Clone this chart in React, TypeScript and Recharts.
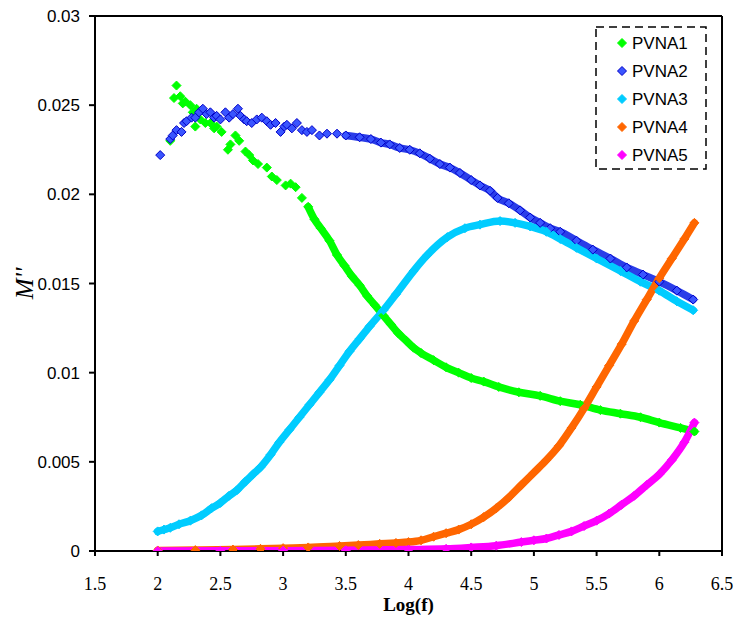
import React from 'react';
import { ComposedChart, Scatter, Line, XAxis, YAxis, ReferenceLine, Legend, Label } from 'recharts';

// axis ticks
const X_TICKS = [1.5, 2, 2.5, 3, 3.5, 4, 4.5, 5, 5.5, 6, 6.5];
const Y_TICKS = [0, 0.005, 0.01, 0.015, 0.02, 0.025, 0.03];

// [log(f), M'']
const PVNA1 = [
  [2.10, 0.0230], [2.13, 0.0254], [2.15, 0.0261], [2.18, 0.0255], [2.20, 0.0251], [2.22, 0.0252],
  [2.26, 0.0250], [2.28, 0.0246], [2.31, 0.0248], [2.30, 0.0238], [2.34, 0.0242], [2.38, 0.0240],
  [2.42, 0.0240], [2.45, 0.0237], [2.47, 0.0238], [2.51, 0.0235], [2.56, 0.0225], [2.58, 0.0228],
  [2.62, 0.0233], [2.65, 0.0230], [2.70, 0.0224], [2.73, 0.0222], [2.76, 0.0219], [2.80, 0.0217],
  [2.87, 0.0215], [2.91, 0.0210], [2.95, 0.0208], [3.02, 0.0205], [3.06, 0.0206], [3.10, 0.0204],
  [3.15, 0.0198], [3.20, 0.0193], [3.25, 0.0186], [3.30, 0.0181], [3.37, 0.0174], [3.43, 0.0166],
  [3.49, 0.0160], [3.55, 0.0154], [3.61, 0.0149], [3.67, 0.0143], [3.73, 0.0138], [3.80, 0.0132],
  [3.86, 0.0127], [3.92, 0.0122], [3.98, 0.0118], [4.04, 0.0114], [4.10, 0.0111], [4.20, 0.0107],
  [4.30, 0.0103], [4.40, 0.0100], [4.50, 0.0097], [4.60, 0.0095], [4.72, 0.0092], [4.88, 0.0089],
  [5.05, 0.0087], [5.21, 0.0084], [5.37, 0.0082], [5.53, 0.0079], [5.69, 0.0077], [5.85, 0.0075],
  [6.00, 0.0072], [6.17, 0.0069], [6.28, 0.0067],
];

const PVNA2 = [
  [2.02, 0.0222], [2.10, 0.0231], [2.12, 0.0233], [2.15, 0.0236], [2.19, 0.0235], [2.21, 0.0240],
  [2.23, 0.0241], [2.27, 0.0243], [2.30, 0.0243], [2.33, 0.0246], [2.36, 0.0248], [2.39, 0.0245],
  [2.42, 0.0246], [2.45, 0.0243], [2.47, 0.0244], [2.50, 0.0242], [2.54, 0.0246], [2.57, 0.0243],
  [2.60, 0.0245], [2.64, 0.0248], [2.66, 0.0244], [2.69, 0.0242], [2.71, 0.0241], [2.75, 0.0240],
  [2.79, 0.0242], [2.83, 0.0243], [2.87, 0.0241], [2.90, 0.0239], [2.94, 0.0240], [2.98, 0.0235],
  [3.01, 0.0238], [3.03, 0.0239], [3.07, 0.0237], [3.11, 0.0240], [3.15, 0.0236], [3.19, 0.0235],
  [3.23, 0.0236], [3.29, 0.0233], [3.35, 0.0234], [3.43, 0.0234], [3.50, 0.0233], [3.61, 0.0232],
  [3.70, 0.0231], [3.78, 0.0229], [3.85, 0.0228], [3.93, 0.0226], [4.01, 0.0225], [4.09, 0.0223],
  [4.17, 0.0220], [4.25, 0.0217], [4.33, 0.0215], [4.41, 0.0212], [4.50, 0.0208], [4.57, 0.0205],
  [4.65, 0.0202], [4.71, 0.0198], [4.80, 0.0195], [4.89, 0.0191], [4.97, 0.0187], [5.05, 0.0184],
  [5.13, 0.0181], [5.21, 0.0179], [5.34, 0.0174], [5.47, 0.0169], [5.61, 0.0164], [5.74, 0.0159],
  [5.87, 0.0155], [6.00, 0.0151], [6.14, 0.0146], [6.27, 0.0141],
];

const PVNA3 = [
  [2.00, 0.0011], [2.05, 0.0012], [2.10, 0.0013], [2.17, 0.0015], [2.26, 0.0017], [2.35, 0.0020],
  [2.43, 0.0024], [2.50, 0.0027], [2.57, 0.0031], [2.63, 0.0034], [2.70, 0.0039], [2.76, 0.0043],
  [2.82, 0.0047], [2.90, 0.0054], [2.97, 0.0061], [3.05, 0.0068], [3.13, 0.0075], [3.21, 0.0082],
  [3.29, 0.0089], [3.37, 0.0096], [3.45, 0.0104], [3.53, 0.0112], [3.61, 0.0119], [3.69, 0.0126],
  [3.80, 0.0135], [3.90, 0.0144], [4.04, 0.0157], [4.15, 0.0166], [4.31, 0.0176], [4.45, 0.0181],
  [4.57, 0.0183], [4.73, 0.0185], [4.85, 0.0184], [4.97, 0.0182], [5.10, 0.0179], [5.21, 0.0175],
  [5.34, 0.0170], [5.50, 0.0164], [5.69, 0.0157], [5.85, 0.0151], [6.00, 0.0146], [6.14, 0.0140],
  [6.27, 0.0135],
];

const PVNA4 = [
  [2.00, 0.00003], [2.30, 0.00005], [2.60, 0.00008], [2.82, 0.00012], [3.00, 0.00016], [3.20, 0.0002],
  [3.45, 0.00028], [3.60, 0.00033], [3.77, 0.0004], [3.90, 0.00045], [4.00, 0.0005], [4.10, 0.0006],
  [4.20, 0.0008], [4.30, 0.0010], [4.40, 0.0012], [4.50, 0.0015], [4.60, 0.0019], [4.70, 0.0024],
  [4.80, 0.0030], [4.90, 0.0037], [5.00, 0.0044], [5.10, 0.0051], [5.20, 0.0059], [5.30, 0.0069],
  [5.40, 0.0080], [5.50, 0.0092], [5.60, 0.0104], [5.70, 0.0116], [5.80, 0.0129], [5.90, 0.0141],
  [6.00, 0.0153], [6.10, 0.0164], [6.20, 0.0175], [6.28, 0.0184],
];

const PVNA5 = [
  [2.00, 0.0], [2.50, 0.00001], [3.00, 0.00002], [3.50, 0.00004], [4.00, 0.00008], [4.30, 0.00012],
  [4.50, 0.0002], [4.70, 0.0003], [4.90, 0.0005], [5.00, 0.0006], [5.10, 0.0007], [5.20, 0.0009],
  [5.30, 0.0011], [5.40, 0.0014], [5.50, 0.0017], [5.60, 0.0021], [5.70, 0.0026], [5.80, 0.0031],
  [5.90, 0.0037], [6.00, 0.0043], [6.10, 0.0051], [6.20, 0.0061], [6.28, 0.0072],
];

const toPoints = (pairs: number[][]) => pairs.map(([x, y]) => ({ x, y }));

const SERIES = [
  { name: 'PVNA1', fill: '#00FF00', edge: '#00FF00', band: '#00FF00', pts: toPoints(PVNA1), bandFrom: 3.2 },
  { name: 'PVNA2', fill: '#3A55FF', edge: '#0000C8', band: '#2A3DE8', pts: toPoints(PVNA2), bandFrom: 3.45 },
  { name: 'PVNA3', fill: '#00CCFF', edge: '#00CCFF', band: '#00CCFF', pts: toPoints(PVNA3), bandFrom: 0 },
  { name: 'PVNA4', fill: '#FF6600', edge: '#FF6600', band: '#FF6600', pts: toPoints(PVNA4), bandFrom: 0 },
  { name: 'PVNA5', fill: '#FF00FF', edge: '#FF00FF', band: '#FF00FF', pts: toPoints(PVNA5), bandFrom: 0 },
];

const Diamond = (props: any) => {
  const { cx, cy, fill, stroke } = props;
  if (cx == null || cy == null) return null;
  const r = 4.5;
  return (
    <path
      d={`M${cx},${cy - r}L${cx + r},${cy}L${cx},${cy + r}L${cx - r},${cy}Z`}
      fill={fill}
      stroke={stroke}
      strokeWidth={1}
    />
  );
};

const renderLegend = () => (
  <svg width={112} height={145}>
    <rect x={1} y={1} width={110} height={142} fill="#fff" stroke="#000" strokeWidth={1.5} strokeDasharray="8 5" />
    {SERIES.map((s, i) => {
      const cy = 17 + i * 28;
      return (
        <g key={s.name}>
          <path d={`M27,${cy - 4.5}L31.5,${cy}L27,${cy + 4.5}L22.5,${cy}Z`} fill={s.fill} stroke={s.edge} />
          <text x={37} y={cy + 6} fontFamily="'Liberation Sans', Arial, sans-serif" fontSize={17} fill="#000">
            {s.name}
          </text>
        </g>
      );
    })}
  </svg>
);

const App = () => {
  return (
    <div style={{ position: 'absolute', left: 0, top: 0, background: '#fff' }}>
      <ComposedChart width={738} height={618} margin={{ top: 16, right: 16, bottom: 0, left: 15 }}>
        <XAxis
          dataKey="x"
          type="number"
          domain={[1.5, 6.5]}
          ticks={X_TICKS}
          allowDataOverflow
          height={67}
          stroke="#000"
          strokeWidth={2}
          tickSize={5}
          tickMargin={21}
          tick={{ fill: '#000', fontFamily: "'Liberation Serif', 'Times New Roman', serif", fontSize: 18 }}
        >
          <Label
            value="Log(f)"
            position="insideBottom"
            offset={7}
            style={{ fill: '#000', fontFamily: "'Liberation Serif', 'Times New Roman', serif", fontSize: 19, fontWeight: 'bold' }}
          />
        </XAxis>
        <YAxis
          dataKey="y"
          type="number"
          domain={[0, 0.03]}
          ticks={Y_TICKS}
          allowDataOverflow
          width={80}
          stroke="#000"
          strokeWidth={2}
          tickSize={6}
          tickMargin={9}
          tick={{ fill: '#000', fontFamily: "'Liberation Sans', Arial, sans-serif", fontSize: 17 }}
        >
          <Label
            value="M''"
            angle={-90}
            position="insideLeft"
            offset={9}
            style={{ fill: '#000', fontFamily: "'Liberation Serif', 'Times New Roman', serif", fontSize: 25, fontStyle: 'italic', textAnchor: 'middle' }}
          />
        </YAxis>
        <ReferenceLine y={0.03} stroke="#000" strokeWidth={2} />
        <ReferenceLine x={6.5} stroke="#000" strokeWidth={2} />
        {SERIES.flatMap((s) => [
          <Line
            key={s.name + '-band'}
            data={s.pts.filter((p) => p.x >= s.bandFrom)}
            dataKey="y"
            type="monotone"
            stroke={s.band}
            strokeWidth={7.5}
            strokeLinecap="round"
            dot={false}
            activeDot={false}
            legendType="none"
            isAnimationActive={false}
          />,
          <Scatter
            key={s.name}
            name={s.name}
            data={s.pts}
            dataKey="y"
            fill={s.fill}
            shape={(p: any) => <Diamond {...p} fill={s.fill} stroke={s.edge} />}
            isAnimationActive={false}
          />,
        ])}
        <Legend
          layout="vertical"
          align="center"
          verticalAlign="middle"
          content={renderLegend}
          wrapperStyle={{ left: 595, top: 26, width: 112, height: 145 }}
        />
      </ComposedChart>
    </div>
  );
};

export default App;
